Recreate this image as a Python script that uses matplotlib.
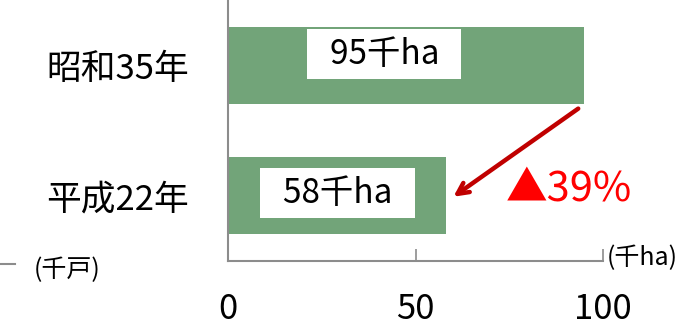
import matplotlib
matplotlib.use('Agg')
import matplotlib.pyplot as plt
from matplotlib.lines import Line2D

plt.rcParams['font.family'] = ['Noto Sans CJK JP', 'DejaVu Sans']

# ---- data ----
years = ['平成22年', '昭和35年']          # bottom -> top
area_kha = [58, 95]
bar_labels = ['58千ha', '95千ha']
label_x = [29.2, 41.7]
label_dy = [0.02, 0.085]
xticks = [0, 50, 100]
change_label = '▲39%'

GREEN = '#72A479'
GRAY = '#8C8C8C'

fig = plt.figure(figsize=(6.98, 3.26), dpi=100)
ax = fig.add_axes([228/698, (326-261)/326, 375/698, 261/326])

ypos = list(range(len(years)))
ax.barh(ypos, area_kha, height=0.59, color=GREEN, zorder=2)
ax.set_xlim(0, 100)
ax.set_ylim(-0.5, 1.5)
ax.set_yticks(ypos)
ax.set_yticklabels(years, fontsize=25)
ax.set_xticks(xticks)
ax.set_xticklabels([str(t) for t in xticks], fontsize=25)
ax.tick_params(axis='y', length=0, pad=28)
ax.tick_params(axis='x', direction='in', length=8.5, width=1.2, color=GRAY, pad=22)

for s in ('top', 'right'):
    ax.spines[s].set_visible(False)
for s in ('left', 'bottom'):
    ax.spines[s].set_color(GRAY)
    ax.spines[s].set_linewidth(1.5)

# value labels in white boxes
for y, lx, dy, lab in zip(ypos, label_x, label_dy, bar_labels):
    ax.text(lx, y + dy, '  ' + lab + '  ', fontsize=24, ha='center', va='center', zorder=3,
            bbox=dict(boxstyle='square,pad=0.22', fc='white', ec='none'))

# arrow from top bar end to bottom bar end
ax.annotate('', xy=(area_kha[0] + 1.5, ypos[0] - 0.02), xytext=(area_kha[1] - 1, ypos[1] - 0.32),
            arrowprops=dict(arrowstyle='->,head_length=0.8,head_width=0.4', color='#C00000',
                            lw=3.2), zorder=4)
ax.text(74, ypos[0] + 0.05, change_label, fontsize=30, color='#FF0000', ha='left', va='center')

# unit labels
fig.text(607/698, 1 - 258/326, '(千ha)', fontsize=18, ha='left', va='center')
fig.text(34/698, 1 - 270/326, '(千戸)', fontsize=18, ha='left', va='center')
fig.add_artist(Line2D([0, 15/698], [1 - 264/326, 1 - 264/326], color=GRAY, lw=1.5))

fig.savefig('out.png', dpi=100)
